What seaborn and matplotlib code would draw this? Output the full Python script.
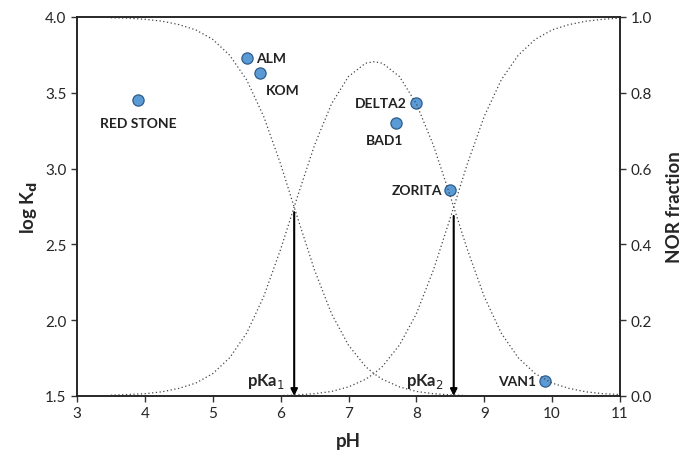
import numpy as np
import pandas as pd
import matplotlib
matplotlib.use("Agg")
import matplotlib.pyplot as plt
import seaborn as sns

sns.set_style("ticks")
plt.rcParams["font.family"] = ["Lato", "DejaVu Sans"]

# sorption data (log Kd vs pH)
sites = ["RED STONE", "ALM", "KOM", "BAD1", "DELTA2", "ZORITA", "VAN1"]
site_ph = [3.9, 5.5, 5.7, 7.7, 8.0, 8.5, 9.9]
log_kd = [3.45, 3.73, 3.63, 3.30, 3.43, 2.86, 1.60]

# NOR speciation
curve_ph = [3.5, 3.75, 4.0, 4.25, 4.5, 4.75, 5.0, 5.25, 5.5, 5.75, 6.0, 6.25,
            6.5, 6.75, 7.0, 7.25, 7.375, 7.5, 7.75, 8.0, 8.25, 8.5, 8.75, 9.0,
            9.25, 9.5, 9.75, 10.0, 10.25, 10.5, 10.75, 11.0]
cation = [0.998, 0.997, 0.994, 0.989, 0.980, 0.966, 0.941, 0.899, 0.834, 0.738,
          0.612, 0.470, 0.332, 0.217, 0.134, 0.078, 0.059, 0.044, 0.024, 0.012,
          0.006, 0.003, 0.001, 0.0, 0.0, 0.0, 0.0, 0.0, 0.0, 0.0, 0.0, 0.0]
zwitterion = [0.002, 0.004, 0.006, 0.011, 0.020, 0.034, 0.059, 0.101, 0.166,
              0.262, 0.387, 0.527, 0.662, 0.771, 0.843, 0.878, 0.882, 0.878,
              0.843, 0.771, 0.662, 0.527, 0.387, 0.262, 0.166, 0.101, 0.059,
              0.034, 0.020, 0.011, 0.006, 0.004]
anion = [0.0, 0.0, 0.0, 0.0, 0.0, 0.0, 0.0, 0.0, 0.0, 0.0, 0.001, 0.003, 0.006,
         0.012, 0.024, 0.044, 0.059, 0.078, 0.134, 0.217, 0.332, 0.470, 0.612,
         0.738, 0.834, 0.899, 0.941, 0.966, 0.980, 0.989, 0.994, 0.997]

pka_labels = ["pKa$_1$", "pKa$_2$"]
pka_values = [6.2, 8.55]
pka_fraction = [0.485, 0.475]

pts = pd.DataFrame({"pH": site_ph, "logKd": log_kd, "site": sites})
spec = pd.DataFrame({"pH": curve_ph, "cation": cation,
                     "zwitterion": zwitterion, "anion": anion})

fig = plt.figure(figsize=(6.83, 4.52), dpi=100)
ax = fig.add_axes([0.1127, 0.1217, 0.7951, 0.8385])
ax2 = ax.twinx()

for col in ["cation", "zwitterion", "anion"]:
    sns.lineplot(data=spec, x="pH", y=col, ax=ax2, color="#444444",
                 linewidth=0.9, linestyle=(0, (1, 2)))

sns.scatterplot(data=pts, x="pH", y="logKd", ax=ax, s=65, color="#5b9bd5",
                edgecolor="#2e5d8c", linewidth=0.9, zorder=5)

# label placement: (dx, dy) in points, alignment
offsets = {
    "RED STONE": (0, -12, "center", "top"),
    "ALM": (7, 0, "left", "center"),
    "KOM": (4, -8, "left", "top"),
    "BAD1": (-8, -8, "center", "top"),
    "DELTA2": (-7, 0, "right", "center"),
    "ZORITA": (-6, 0, "right", "center"),
    "VAN1": (-7, 0, "right", "center"),
}
for name, x, y in zip(sites, site_ph, log_kd):
    dx, dy, ha, va = offsets[name]
    ax.annotate(name, (x, y), xytext=(dx, dy), textcoords="offset points",
                ha=ha, va=va, fontsize=10, fontweight="bold", color="#222222")

for lab, x, f in zip(pka_labels, pka_values, pka_fraction):
    ax2.annotate("", xy=(x, 0.0), xytext=(x, f),
                 arrowprops=dict(arrowstyle="-|>", color="black", lw=1.5,
                                 mutation_scale=10, shrinkA=0, shrinkB=0))
    ax2.annotate(lab, (x, 0.0), xytext=(-7, 4), textcoords="offset points",
                 ha="right", va="bottom", fontsize=12, fontweight="bold")

ax.set_xlim(3, 11)
ax.set_ylim(1.5, 4.0)
ax2.set_ylim(0, 1.0)
ax.set_xticks(range(3, 12))
ax.set_yticks([1.5, 2.0, 2.5, 3.0, 3.5, 4.0])
ax.set_yticklabels([f"{v:.1f}" for v in [1.5, 2.0, 2.5, 3.0, 3.5, 4.0]])
ax2.set_yticks([0, 0.2, 0.4, 0.6, 0.8, 1.0])
ax2.set_yticklabels([f"{v:.1f}" for v in [0, 0.2, 0.4, 0.6, 0.8, 1.0]])

ax.set_xlabel("pH", fontsize=13.5, fontweight="bold", labelpad=8)
ax.set_ylabel("log K$_\\mathbf{d}$", fontsize=13.5, fontweight="bold")
ax2.set_ylabel("NOR fraction", fontsize=13.5, fontweight="bold", labelpad=10)

for a in (ax, ax2):
    a.tick_params(labelsize=11, length=4, width=1, color="#333333")
    for sp in a.spines.values():
        sp.set_visible(True)
        sp.set_linewidth(1.1)
        sp.set_color("#222222")

plt.savefig("out.png", dpi=100)
